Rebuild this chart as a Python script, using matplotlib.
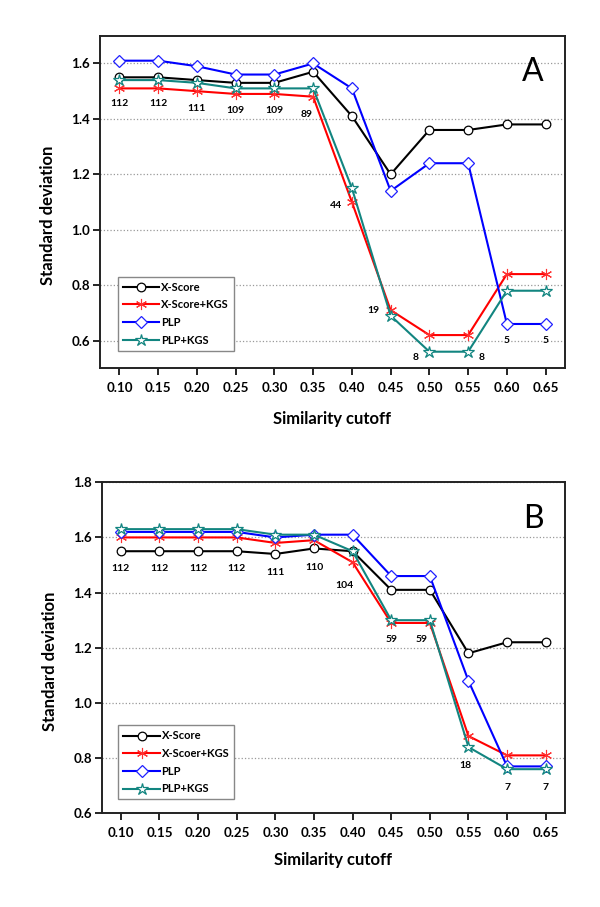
import matplotlib
matplotlib.use("Agg")
import matplotlib.pyplot as plt
from matplotlib.ticker import FormatStrFormatter

plt.rcParams['font.family'] = ['Lato', 'DejaVu Sans']
plt.rcParams['font.weight'] = 'bold'

# Shared x axis: similarity cutoff
cutoff = [0.10, 0.15, 0.20, 0.25, 0.30, 0.35, 0.40, 0.45, 0.50, 0.55, 0.60, 0.65]
xtick_labels = ['0.10', '0.15', '0.20', '0.25', '0.30', '0.35',
                '0.40', '0.45', '0.50', '0.55', '0.60', '0.65']

# Panel A
a_xscore = [1.55, 1.55, 1.54, 1.53, 1.53, 1.57, 1.41, 1.20, 1.36, 1.36, 1.38, 1.38]
a_xscore_kgs = [1.51, 1.51, 1.50, 1.49, 1.49, 1.48, 1.10, 0.71, 0.62, 0.62, 0.84, 0.84]
a_plp = [1.61, 1.61, 1.59, 1.56, 1.56, 1.60, 1.51, 1.14, 1.24, 1.24, 0.66, 0.66]
a_plp_kgs = [1.54, 1.54, 1.53, 1.51, 1.51, 1.51, 1.15, 0.69, 0.56, 0.56, 0.78, 0.78]
a_counts = ['112', '112', '111', '109', '109', '89', '44', '19', '8', '8', '5', '5']
a_count_x = [0.10, 0.15, 0.20, 0.25, 0.30, 0.341, 0.379, 0.428, 0.482, 0.568, 0.60, 0.65]
a_count_y = [1.455, 1.455, 1.437, 1.431, 1.431, 1.416, 1.087, 0.707, 0.540, 0.540, 0.602, 0.602]
a_names = ['X-Score', 'X-Score+KGS', 'PLP', 'PLP+KGS']
a_yticks = [0.6, 0.8, 1.0, 1.2, 1.4, 1.6]

# Panel B
b_xscore = [1.55, 1.55, 1.55, 1.55, 1.54, 1.56, 1.55, 1.41, 1.41, 1.18, 1.22, 1.22]
b_xscore_kgs = [1.60, 1.60, 1.60, 1.60, 1.58, 1.59, 1.51, 1.29, 1.29, 0.88, 0.81, 0.81]
b_plp = [1.62, 1.62, 1.62, 1.62, 1.60, 1.61, 1.61, 1.46, 1.46, 1.08, 0.77, 0.77]
b_plp_kgs = [1.63, 1.63, 1.63, 1.63, 1.61, 1.61, 1.55, 1.30, 1.30, 0.84, 0.76, 0.76]
b_counts = ['112', '112', '112', '112', '111', '110', '104', '59', '59', '18', '7', '7']
b_count_x = [0.10, 0.15, 0.20, 0.25, 0.30, 0.35, 0.389, 0.45, 0.489, 0.546, 0.60, 0.65]
b_count_y = [1.488, 1.488, 1.488, 1.488, 1.474, 1.491, 1.427, 1.230, 1.230, 0.774, 0.692, 0.692]
b_names = ['X-Score', 'X-Scoer+KGS', 'PLP', 'PLP+KGS']
b_yticks = [0.6, 0.8, 1.0, 1.2, 1.4, 1.6, 1.8]

TEAL = '#128580'
styles = [
    dict(color='black', marker='o', markersize=6.2, markerfacecolor='white',
         markeredgecolor='black', markeredgewidth=0.9),
    dict(color='#ff0000', marker=(6, 2, 0), markersize=8, markeredgecolor='#ff3030',
         markeredgewidth=0.8),
    dict(color='#0000ff', marker='D', markersize=6.5, markerfacecolor='white',
         markeredgecolor='#2020ff', markeredgewidth=0.9),
    dict(color=TEAL, marker='*', markersize=9, markerfacecolor='white',
         markeredgecolor=TEAL, markeredgewidth=0.9),
]


def draw_panel(ax, series, names, counts, cx, cy, ylim, yticks, letter,
               letter_y, xlab_y, leg_anchor):
    for vals, name, st in zip(series, names, styles):
        ax.plot(cutoff, vals, linewidth=1.5, label=name, **st)
    for t, x, y in zip(counts, cx, cy):
        ax.text(x, y, t, ha='center', va='center', fontsize=7.5, fontweight='bold')
    ax.set_xlim(0.075, 0.675)
    ax.set_ylim(*ylim)
    ax.set_xticks(cutoff)
    ax.set_xticklabels(xtick_labels)
    ax.set_yticks(yticks)
    ax.yaxis.set_major_formatter(FormatStrFormatter('%.1f'))
    ax.grid(axis='y', linestyle=':', color='#999999', linewidth=0.9)
    ax.set_axisbelow(True)
    for s in ax.spines.values():
        s.set_linewidth(1.4)
        s.set_color('#222222')
    ax.tick_params(axis='both', direction='out', length=5, width=1.2,
                   labelsize=9.6, pad=2)
    ax.tick_params(axis='x', pad=5)
    for lab in ax.get_xticklabels() + ax.get_yticklabels():
        lab.set_fontweight('bold')
    ax.set_xlabel('Similarity cutoff', fontsize=12, fontweight='bold', va='center')
    ax.xaxis.set_label_coords(0.499, xlab_y)
    ax.set_ylabel('Standard deviation', fontsize=12, fontweight='bold', va='center')
    ax.yaxis.set_label_coords(-0.111, 0.459)
    ax.text(0.931, letter_y, letter, transform=ax.transAxes, fontsize=23,
            fontweight='normal', ha='center', va='center')
    leg = ax.legend(loc='lower left', bbox_to_anchor=leg_anchor, numpoints=1,
                    handlelength=3.3, fontsize=8, fancybox=False,
                    edgecolor='#888888', framealpha=1, borderpad=0.45,
                    labelspacing=0.6, handletextpad=0.15, borderaxespad=0)
    leg.get_frame().set_linewidth(1.0)
    for t in leg.get_texts():
        t.set_fontweight('bold')


fig = plt.figure(figsize=(6, 9.07), dpi=100)
ax_a = fig.add_axes([0.1667, 0.5939, 0.775, 0.3667])
ax_b = fig.add_axes([0.1692, 0.1033, 0.7725, 0.365])

draw_panel(ax_a, [a_xscore, a_xscore_kgs, a_plp, a_plp_kgs], a_names,
           a_counts, a_count_x, a_count_y, (0.5, 1.7), a_yticks, 'A',
           0.892, -0.152, (0.038, 0.053))
draw_panel(ax_b, [b_xscore, b_xscore_kgs, b_plp, b_plp_kgs], b_names,
           b_counts, b_count_x, b_count_y, (0.6, 1.8), b_yticks, 'B',
           0.889, -0.141, (0.036, 0.042))

fig.savefig('out.png', dpi=100)
